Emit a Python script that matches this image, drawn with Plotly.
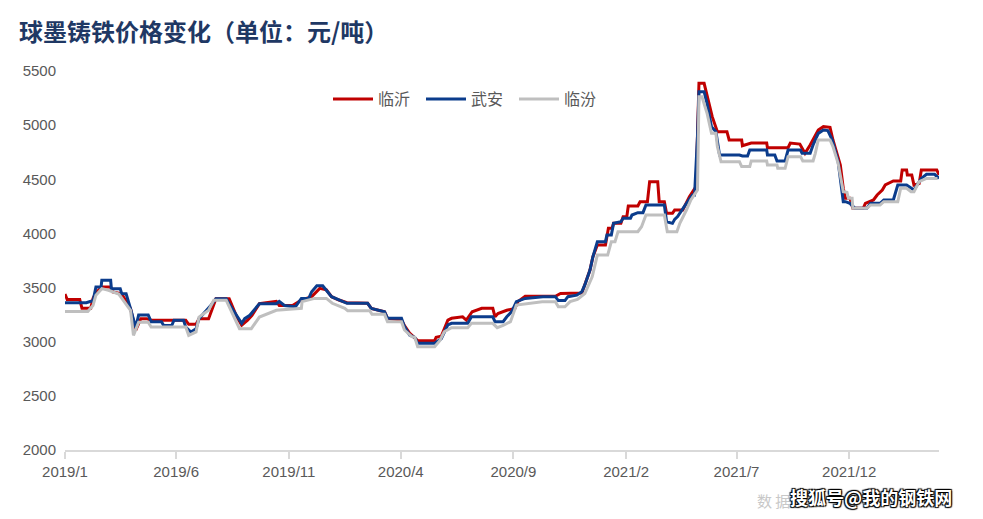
import plotly.graph_objects as go

# ---------------- data ----------------
title_text = "球墨铸铁价格变化（单位：元/吨）"
series_names = ["临沂", "武安", "临汾"]

linyi_dates = [
    "2019-01-01", "2019-01-04", "2019-01-21", "2019-01-24", "2019-02-05", "2019-02-08", "2019-02-12",
    "2019-02-20", "2019-03-04", "2019-03-07", "2019-03-19", "2019-03-31", "2019-04-07", "2019-04-14",
    "2019-04-22", "2019-04-28", "2019-06-14", "2019-06-18", "2019-06-28", "2019-07-02", "2019-07-15",
    "2019-07-22", "2019-07-25", "2019-08-12", "2019-08-22", "2019-08-29", "2019-09-06", "2019-09-12",
    "2019-09-22", "2019-10-15", "2019-10-19", "2019-11-06", "2019-11-18", "2019-12-02", "2019-12-09",
    "2019-12-13", "2019-12-22", "2019-12-29", "2020-01-08", "2020-01-19", "2020-02-16", "2020-02-21",
    "2020-03-10", "2020-03-14", "2020-04-02", "2020-04-06", "2020-04-13", "2020-04-24", "2020-05-17",
    "2020-05-19", "2020-05-26", "2020-06-04", "2020-06-09", "2020-06-24", "2020-06-29", "2020-07-07",
    "2020-07-20", "2020-08-04", "2020-08-07", "2020-08-11", "2020-08-23", "2020-09-03", "2020-09-07",
    "2020-09-17", "2020-10-28", "2020-11-04", "2020-12-03", "2020-12-07", "2020-12-14", "2020-12-18",
    "2020-12-24", "2021-01-04", "2021-01-08", "2021-01-13", "2021-01-15", "2021-01-25", "2021-01-28",
    "2021-02-02", "2021-02-04", "2021-02-17", "2021-02-20",
    "2021-03-02", "2021-03-05", "2021-03-16", "2021-03-18", "2021-03-25", "2021-03-28", "2021-04-05",
    "2021-04-08", "2021-04-19", "2021-04-28", "2021-05-07", "2021-05-11", "2021-05-18", "2021-05-25",
    "2021-05-29", "2021-06-05", "2021-06-18", "2021-06-21", "2021-07-08", "2021-07-09", "2021-07-21",
    "2021-08-11", "2021-08-12", "2021-09-09", "2021-09-12", "2021-09-25", "2021-10-02", "2021-10-09",
    "2021-10-13", "2021-10-20", "2021-10-27", "2021-11-05", "2021-11-09", "2021-11-19", "2021-11-23",
    "2021-11-26", "2021-12-02", "2021-12-06", "2021-12-20", "2021-12-23", "2022-01-03", "2022-01-08",
    "2022-01-15", "2022-01-19", "2022-01-30", "2022-02-09", "2022-02-11", "2022-02-17", "2022-02-18",
    "2022-02-24", "2022-02-27", "2022-03-06", "2022-03-09", "2022-03-30", "2022-04-02",
]
linyi_values = [
    3440, 3390, 3390, 3310, 3310, 3400, 3453,
    3505, 3505, 3460, 3443, 3305, 3105, 3213,
    3213, 3198, 3198, 3161, 3161, 3213, 3213,
    3351, 3397, 3397, 3235, 3152, 3198, 3244,
    3351, 3373, 3335, 3335, 3385, 3416, 3462,
    3493, 3480, 3416, 3385, 3360, 3355, 3308,
    3277, 3216, 3200, 3150, 3080, 3010, 3010,
    3040, 3050, 3200, 3216, 3230, 3200, 3277,
    3308, 3308, 3230, 3260, 3290, 3308, 3370,
    3420, 3420, 3445, 3450, 3524, 3662, 3785,
    3893, 3893, 4047, 4047, 4093, 4093, 4155,
    4155, 4253, 4253, 4293,
    4293, 4478, 4478, 4293, 4293, 4186, 4186,
    4216, 4216, 4339, 4432, 5386, 5386, 5202,
    5078, 4940, 4940, 4863, 4863, 4810, 4835,
    4835, 4792, 4792, 4835, 4825, 4740, 4817,
    4863, 4955, 4986, 4980, 4863, 4632, 4417,
    4324, 4324, 4232, 4232, 4278, 4309, 4355,
    4401, 4447, 4484, 4484, 4586, 4586, 4540,
    4540, 4447, 4460, 4586, 4586, 4540,
]

wuan_dates = [
    "2019-01-01", "2019-01-30", "2019-02-05", "2019-02-08", "2019-02-12", "2019-02-19", "2019-02-20",
    "2019-03-04", "2019-03-05", "2019-03-17", "2019-03-19", "2019-03-25", "2019-03-31", "2019-04-07",
    "2019-04-11", "2019-04-24", "2019-04-28", "2019-05-12", "2019-05-15", "2019-05-26", "2019-05-29",
    "2019-06-11", "2019-06-14", "2019-06-21", "2019-06-28", "2019-07-02", "2019-07-18", "2019-07-25",
    "2019-08-08", "2019-08-16", "2019-08-29", "2019-09-02", "2019-09-09", "2019-09-22", "2019-10-15",
    "2019-10-19", "2019-10-26", "2019-11-10", "2019-11-18", "2019-11-28", "2019-12-02", "2019-12-09",
    "2019-12-17", "2019-12-22", "2019-12-29", "2020-01-19", "2020-02-16", "2020-02-21", "2020-03-10",
    "2020-03-14", "2020-04-02", "2020-04-06", "2020-04-13", "2020-04-20", "2020-04-24", "2020-05-17",
    "2020-05-26", "2020-06-04", "2020-06-09", "2020-07-01", "2020-07-06", "2020-08-04", "2020-08-07",
    "2020-08-18", "2020-08-23", "2020-08-30", "2020-09-05", "2020-09-17", "2020-10-11", "2020-10-28",
    "2020-11-01", "2020-11-10", "2020-11-14", "2020-11-26", "2020-12-03", "2020-12-07", "2020-12-14",
    "2020-12-18", "2020-12-24", "2021-01-04", "2021-01-06", "2021-01-12", "2021-01-15", "2021-01-25",
    "2021-01-28", "2021-02-07", "2021-02-09", "2021-02-17", "2021-02-24", "2021-02-28", "2021-03-25",
    "2021-03-28", "2021-04-05",
    "2021-04-08", "2021-04-12", "2021-04-21", "2021-04-28", "2021-05-02", "2021-05-05", "2021-05-09",
    "2021-05-11", "2021-05-18", "2021-05-22", "2021-05-28", "2021-06-03", "2021-06-05", "2021-06-08",
    "2021-07-05", "2021-07-09", "2021-07-16", "2021-07-19", "2021-08-11", "2021-08-12", "2021-08-22",
    "2021-08-25", "2021-09-05", "2021-09-09", "2021-09-26", "2021-09-28", "2021-10-09", "2021-10-13",
    "2021-10-20", "2021-10-27", "2021-11-02", "2021-11-08", "2021-11-16", "2021-11-23", "2021-11-26",
    "2021-12-02", "2021-12-09", "2021-12-25", "2021-12-30", "2022-01-12", "2022-01-17", "2022-01-30",
    "2022-02-05", "2022-02-17", "2022-02-27", "2022-03-09", "2022-03-16", "2022-03-27", "2022-04-02",
]
wuan_values = [
    3360, 3360, 3373, 3373, 3505, 3505, 3567,
    3567, 3490, 3490, 3443, 3443, 3305, 3130,
    3247, 3247, 3185, 3185, 3150, 3150, 3198,
    3198, 3136, 3090, 3120, 3213, 3335, 3397,
    3397, 3305, 3170, 3213, 3244, 3351, 3351,
    3373, 3335, 3323, 3400, 3400, 3462, 3517,
    3517, 3475, 3416, 3355, 3355, 3308, 3277,
    3216, 3216, 3139, 3062, 3040, 2985, 2985,
    3028, 3155, 3170, 3170, 3230, 3230, 3185,
    3185, 3230, 3280, 3370, 3400, 3416, 3416,
    3380, 3380, 3416, 3430, 3462, 3524, 3662,
    3785, 3924, 3924, 3985, 3985, 4093, 4108,
    4140, 4140, 4170, 4192, 4192, 4263, 4263,
    4108, 4093,
    4130, 4155, 4247, 4324, 4355, 4355, 4894,
    5309, 5309, 5202, 4986, 4940, 4848, 4724,
    4724, 4715, 4715, 4770, 4770, 4724, 4724,
    4669, 4669, 4770, 4770, 4740, 4740, 4817,
    4924, 4955, 4950, 4863, 4663, 4293, 4293,
    4278, 4232, 4232, 4278, 4278, 4309, 4309,
    4447, 4447, 4401, 4508, 4546, 4546, 4508,
]

linfen_dates = [
    "2019-01-01", "2019-02-01", "2019-02-08", "2019-02-12", "2019-02-20", "2019-03-01", "2019-03-15",
    "2019-03-21", "2019-03-31", "2019-04-04", "2019-04-11", "2019-04-24", "2019-04-28", "2019-06-14",
    "2019-06-18", "2019-06-28", "2019-07-02", "2019-07-15", "2019-07-22", "2019-08-08", "2019-08-16",
    "2019-08-26", "2019-09-11", "2019-09-18", "2019-09-22", "2019-10-15", "2019-11-06", "2019-11-18",
    "2019-11-19", "2019-12-06", "2019-12-22", "2019-12-30", "2020-01-16", "2020-01-20", "2020-02-19",
    "2020-02-22", "2020-03-10", "2020-03-14", "2020-04-02", "2020-04-06", "2020-04-16", "2020-04-20",
    "2020-04-24", "2020-05-17", "2020-05-24", "2020-05-30", "2020-06-09", "2020-07-01", "2020-07-06",
    "2020-08-04", "2020-08-10", "2020-08-18", "2020-08-28", "2020-09-05", "2020-10-10", "2020-10-28",
    "2020-11-01", "2020-11-10", "2020-11-17", "2020-11-27", "2020-12-07", "2020-12-17", "2020-12-24",
    "2021-01-07", "2021-01-12", "2021-01-17", "2021-01-21", "2021-02-17", "2021-02-22", "2021-02-28",
    "2021-03-25",
    "2021-03-29", "2021-04-11", "2021-04-15", "2021-04-24", "2021-04-30", "2021-05-09", "2021-05-11",
    "2021-05-15", "2021-05-22", "2021-05-28", "2021-06-03", "2021-06-05", "2021-06-10", "2021-07-05",
    "2021-07-08", "2021-07-19", "2021-07-21", "2021-08-11", "2021-08-12", "2021-08-25", "2021-08-26",
    "2021-09-05", "2021-09-09", "2021-09-26", "2021-09-29", "2021-10-13", "2021-10-16", "2021-10-20",
    "2021-11-05", "2021-11-09", "2021-11-16", "2021-11-23", "2021-11-28", "2021-11-30", "2021-12-05",
    "2021-12-06", "2021-12-25", "2021-12-30", "2022-01-12", "2022-01-17", "2022-02-05", "2022-02-09",
    "2022-02-17", "2022-02-23", "2022-02-27", "2022-03-06", "2022-03-16", "2022-03-31",
]
linfen_values = [
    3280, 3280, 3335, 3430, 3490, 3475, 3440,
    3380, 3290, 3059, 3180, 3180, 3136, 3136,
    3059, 3090, 3228, 3290, 3382, 3382, 3270,
    3120, 3120, 3182, 3228, 3290, 3305, 3308,
    3370, 3400, 3400, 3355, 3308, 3285, 3285,
    3253, 3253, 3185, 3185, 3108, 3046, 3040,
    2954, 2954, 3010, 3092, 3130, 3130, 3170,
    3170, 3130, 3150, 3185, 3339, 3370, 3370,
    3323, 3323, 3370, 3390, 3445, 3600, 3800,
    3800, 3924, 3924, 4016, 4016, 4062, 4170,
    4170,
    4016, 4016, 4093, 4216, 4309, 4400, 5263,
    5263, 5110, 4924, 4924, 4802, 4663, 4663,
    4617, 4617, 4669, 4669, 4632, 4632, 4601,
    4601, 4709, 4709, 4669, 4669, 4740, 4863,
    4863, 4802, 4648, 4386, 4380, 4324, 4324,
    4232, 4232, 4263, 4263, 4293, 4293, 4417,
    4417, 4386, 4386, 4478, 4508, 4508,
]

x_tick_vals = ["2019-01-01", "2019-06-01", "2019-11-01", "2020-04-01",
               "2020-09-01", "2021-02-01", "2021-07-01", "2021-12-01"]
x_tick_text = ["2019/1", "2019/6", "2019/11", "2020/4",
               "2020/9", "2021/2", "2021/7", "2021/12"]
y_tick_vals = [2000, 2500, 3000, 3500, 4000, 4500, 5000, 5500]

colors = ["#C00000", "#0B3C8C", "#BFBFBF"]

# ---------------- figure ----------------
fig = go.Figure()
for name, xs, ys, col in [
    (series_names[0], linyi_dates, linyi_values, colors[0]),
    (series_names[1], wuan_dates, wuan_values, colors[1]),
    (series_names[2], linfen_dates, linfen_values, colors[2]),
]:
    fig.add_trace(go.Scatter(x=xs, y=ys, name=name, mode="lines",
                             line=dict(color=col, width=3)))

tick_font = dict(family="Liberation Sans, Arial, sans-serif", size=15, color="#595959")

fig.update_layout(
    width=983, height=519,
    margin=dict(l=65, r=44, t=71, b=69),
    paper_bgcolor="white", plot_bgcolor="white",
    title=dict(text=f"<b>{title_text}</b>", x=19 / 983, xanchor="left", xref="container",
               y=1 - 33 / 519, yanchor="middle", yref="container",
               font=dict(family="Noto Sans CJK SC", size=24, color="#1F3864")),
    legend=dict(orientation="h", x=(328 - 65) / 874, xanchor="left",
                y=1 + (71 - 99) / 379, yanchor="middle",
                font=dict(family="Noto Sans CJK SC", size=16, color="#595959"),
                bgcolor="rgba(0,0,0,0)", entrywidth=38, entrywidthmode="pixels",
                itemwidth=40),
    showlegend=True,
)

fig.update_xaxes(
    type="date", range=["2019-01-01", "2022-04-02"],
    tickmode="array", tickvals=x_tick_vals, ticktext=x_tick_text,
    showgrid=False, zeroline=False,
    showline=True, linecolor="#D9D9D9", linewidth=1.5,
    ticks="outside", ticklen=7, tickcolor="#D9D9D9", tickwidth=1.5,
    tickfont=tick_font,
)
fig.update_yaxes(
    range=[2000, 5500], tickmode="array", tickvals=y_tick_vals,
    showgrid=False, zeroline=False, showline=False,
    tickfont=tick_font, ticks="", ticklabelstandoff=8,
)

fig.add_annotation(text="数 据", xref="paper", yref="paper",
                   x=(755 - 65) / 874, y=-(500 - 450) / 379, xanchor="left", yanchor="middle",
                   showarrow=False,
                   font=dict(family="Noto Sans CJK SC", size=15, color="#C8C8C8"))
fig.add_annotation(text="<b>搜狐号@我的钢铁网</b>", xref="paper", yref="paper",
                   x=(788 - 65) / 874, y=-(497 - 450) / 379, xanchor="left", yanchor="middle",
                   showarrow=False,
                   font=dict(family="Noto Sans CJK SC", size=18, color="white",
                             shadow="1px 1px 1px #000, -1px -1px 1px #000, 1px -1px 1px #000, -1px 1px 1px #000"))

fig.write_html("out.html")
